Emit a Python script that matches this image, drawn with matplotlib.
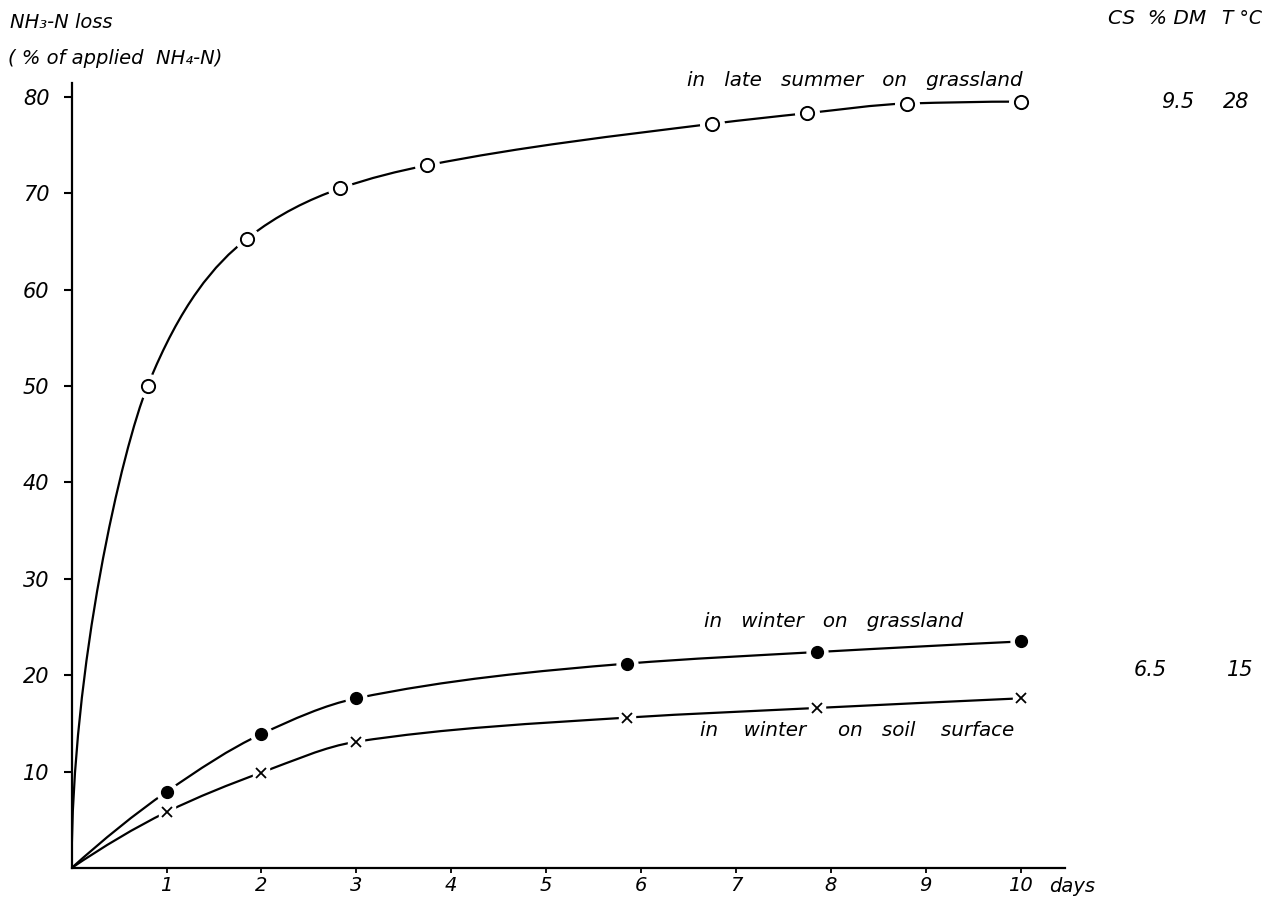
import numpy as np
import matplotlib
matplotlib.use("Agg")
import matplotlib.pyplot as plt
from matplotlib.path import Path
from matplotlib.patches import PathPatch

plt.rcParams['font.family'] = ['DejaVu Sans']

# ---------------- data ----------------
summer_days = [0, 0.8, 1.85, 2.83, 3.75, 6.75, 7.75, 8.8, 10.0]
summer_loss = [0, 50.0, 65.3, 70.5, 72.9, 77.2, 78.3, 79.3, 79.5]

winter_grass_days = [0, 1.0, 2.0, 3.0, 5.85, 7.85, 10.0]
winter_grass_loss = [0, 7.9, 13.9, 17.6, 21.2, 22.4, 23.5]

winter_soil_days = [0, 1.0, 2.0, 3.0, 5.85, 7.85, 10.0]
winter_soil_loss = [0, 5.8, 9.9, 13.1, 15.6, 16.6, 17.6]

x_ticks = [1, 2, 3, 4, 5, 6, 7, 8, 9, 10]
y_ticks = [10, 20, 30, 40, 50, 60, 70, 80]

label_summer = "in   late   summer   on   grassland"
label_wgrass = "in   winter   on   grassland"
label_wsoil = "in    winter     on   soil    surface"
cs_values = ["9.5", "6.5"]
t_values = ["28", "15"]


def pchip_slopes(x, y):
    x = np.asarray(x, float); y = np.asarray(y, float)
    h = np.diff(x); d = np.diff(y) / h
    n = len(x); m = np.zeros(n)
    for k in range(1, n - 1):
        if d[k - 1] * d[k] <= 0:
            m[k] = 0
        else:
            w1 = 2 * h[k] + h[k - 1]; w2 = h[k] + 2 * h[k - 1]
            m[k] = (w1 + w2) / (w1 / d[k - 1] + w2 / d[k])
    m[0] = ((2 * h[0] + h[1]) * d[0] - h[0] * d[1]) / (h[0] + h[1])
    if np.sign(m[0]) != np.sign(d[0]):
        m[0] = 0
    m[-1] = ((2 * h[-1] + h[-2]) * d[-1] - h[-1] * d[-2]) / (h[-1] + h[-2])
    if np.sign(m[-1]) != np.sign(d[-1]):
        m[-1] = 0
    return m


def smooth_path(x, y, vertical_start=False):
    m = pchip_slopes(x, y)
    verts = [(x[0], y[0])]
    codes = [Path.MOVETO]
    for i in range(len(x) - 1):
        dx = x[i + 1] - x[i]
        if i == 0 and vertical_start:
            p1 = (x[0], y[0] + 0.42 * (y[1] - y[0]))
        else:
            p1 = (x[i] + dx / 3, y[i] + m[i] * dx / 3)
        p2 = (x[i + 1] - dx / 3, y[i + 1] - m[i + 1] * dx / 3)
        verts += [p1, p2, (x[i + 1], y[i + 1])]
        codes += [Path.CURVE4] * 3
    return Path(verts, codes)


W, H = 1269, 899
fig = plt.figure(figsize=(W / 100, H / 100), dpi=100)
x0_px, y0_px = 71.6, 868.0
px_day, px_unit = 94.9, 9.64
xmax, ymax = 10.47, 81.4
ax = fig.add_axes([x0_px / W, (H - y0_px) / H, xmax * px_day / W, ymax * px_unit / H])
ax.set_xlim(0, xmax)
ax.set_ylim(0, ymax)

lw = 1.6
for xs, ys, vs in [(summer_days, summer_loss, True),
                   (winter_grass_days, winter_grass_loss, False),
                   (winter_soil_days, winter_soil_loss, False)]:
    p = smooth_path(np.array(xs, float), np.array(ys, float), vertical_start=vs)
    ax.add_patch(PathPatch(p, fill=False, lw=lw, ec='black', capstyle='butt', zorder=2))

# white halos to create gaps around markers, then markers
ax.plot(summer_days[1:], summer_loss[1:], 'o', ms=17, mfc='white', mec='white', zorder=3, clip_on=False)
ax.plot(summer_days[1:], summer_loss[1:], 'o', ms=9.5, mfc='white', mec='black', mew=1.4, zorder=4, clip_on=False)
ax.plot(winter_grass_days[1:], winter_grass_loss[1:], 'o', ms=15, mfc='white', mec='white', zorder=3, clip_on=False)
ax.plot(winter_grass_days[1:], winter_grass_loss[1:], 'o', ms=8.5, mfc='black', mec='black', zorder=4, clip_on=False)
ax.plot(winter_soil_days[1:], winter_soil_loss[1:], 's', ms=11, mfc='white', mec='white', zorder=3, clip_on=False)
ax.plot(winter_soil_days[1:], winter_soil_loss[1:], 'x', ms=7, mec='black', mew=1.3, zorder=4, clip_on=False)

for s in ['top', 'right']:
    ax.spines[s].set_visible(False)
for s in ['left', 'bottom']:
    ax.spines[s].set_linewidth(1.6)

ax.set_xticks(x_ticks)
ax.set_xticklabels([str(t) for t in x_ticks], fontstyle='italic', fontsize=14)
ax.set_yticks(y_ticks)
ax.set_yticklabels([str(t) for t in y_ticks], fontstyle='italic', fontsize=15)
ax.tick_params(axis='y', direction='out', length=6, width=1.5, pad=10)
ax.tick_params(axis='x', direction='out', length=3.5, width=1.3, pad=2)

fs = 14.3
ax.text(1.03, -0.012, "days", transform=ax.transAxes, ha='right', va='top',
        fontsize=14, fontstyle='italic')

ax.text(summer_days[-1] + 0.02, summer_loss[-1] + 1.2, label_summer, ha='right', va='bottom',
        fontsize=fs, fontstyle='italic')
ax.text(winter_grass_days[-1] - 0.6, winter_grass_loss[-1] + 1.1, label_wgrass, ha='right', va='bottom',
        fontsize=fs, fontstyle='italic')
ax.text(winter_soil_days[-1] - 0.07, winter_soil_loss[-1] - 2.3, label_wsoil, ha='right', va='top',
        fontsize=fs, fontstyle='italic')

# right-hand table
fig.text(1108 / W, 1 - 19 / H, "CS  % DM", ha='left', va='center', fontsize=14.5, fontstyle='italic')
fig.text(1222 / W, 1 - 19 / H, "T °C", ha='left', va='center', fontsize=13.5, fontstyle='italic')
ytr = ax.get_yaxis_transform()
def fx(px):
    return (px - x0_px) / (xmax * px_day)
ax.text(fx(1178), summer_loss[-1], cs_values[0], transform=ytr, ha='center', va='center',
        fontsize=15, fontstyle='italic')
ax.text(fx(1236), summer_loss[-1], t_values[0], transform=ytr, ha='center', va='center',
        fontsize=15, fontstyle='italic')
ax.text(fx(1150), 20.5, cs_values[1], transform=ytr, ha='center', va='center',
        fontsize=15, fontstyle='italic')
ax.text(fx(1240), 20.5, t_values[1], transform=ytr, ha='center', va='center',
        fontsize=15, fontstyle='italic')

# y-axis title
fig.text(10 / W, 1 - 22 / H, "NH\u2083-N loss", ha='left', va='center', fontsize=14, fontstyle='italic')
fig.text(8 / W, 1 - 58 / H, "( % of applied  NH\u2084-N)", ha='left', va='center', fontsize=14, fontstyle='italic')

fig.savefig("out.png", dpi=100)
